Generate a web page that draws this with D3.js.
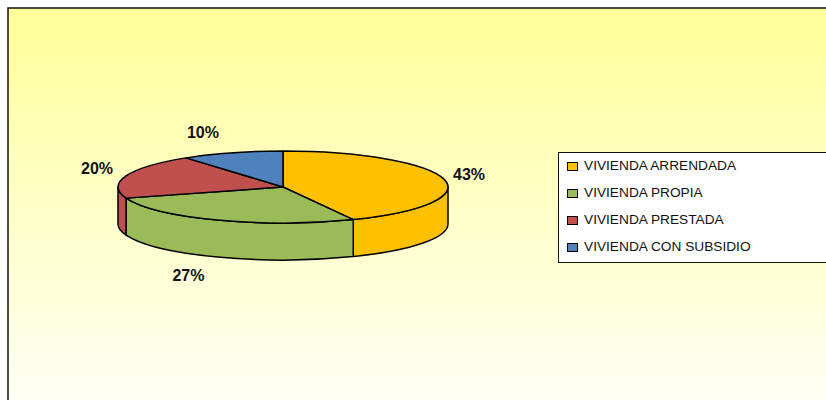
<!DOCTYPE html>
<html>
<head>
    <meta charset="utf-8" />
    <script src="https://d3js.org/d3.v7.min.js"></script>
    <style>
        body { margin: 0; background: #fff; }
    </style>
</head>
<body>
<script type="text/javascript">
    var categories = ["VIVIENDA ARRENDADA", "VIVIENDA PROPIA", "VIVIENDA PRESTADA", "VIVIENDA CON SUBSIDIO"];
    var values = [43, 27, 20, 10];
    var colors = ["#FFC000", "#9BBB59", "#C0504D", "#4F81BD"];

    var w = 826, h = 400;
    var cx = 283, cy = 187, rx = 165, ry = 36, depth = 37;

    var svg = d3.select("body").append("svg")
        .attr("width", w)
        .attr("height", h);

    var grad = svg.append("defs").append("linearGradient")
        .attr("id", "bg").attr("x1", 0).attr("y1", 0).attr("x2", 0).attr("y2", 1);
    grad.append("stop").attr("offset", "0%").attr("stop-color", "#FFFF99");
    grad.append("stop").attr("offset", "100%").attr("stop-color", "#FFFFF8");

    // chart area, runs off the right and bottom
    svg.append("rect")
        .attr("x", 8).attr("y", 8)
        .attr("width", 830).attr("height", 410)
        .attr("fill", "url(#bg)")
        .attr("stroke", "#111")
        .attr("stroke-width", 1.5);

    var pie = d3.pie().sort(null).value(function(d){ return d; });
    var arcs = pie(values);

    function pt(a, dy) {
        return [cx + rx * Math.sin(a), cy - ry * Math.cos(a) + (dy || 0)];
    }

    // side walls (front half only: angles PI/2 .. 3PI/2)
    var sides = svg.append("g");
    arcs.forEach(function(d, i) {
        var a0 = Math.max(d.startAngle, Math.PI / 2),
            a1 = Math.min(d.endAngle, Math.PI * 1.5);
        if (a1 <= a0) return;
        var p0 = pt(a0), p1 = pt(a1), q1 = pt(a1, depth), q0 = pt(a0, depth);
        var large = (a1 - a0) > Math.PI ? 1 : 0;
        var dstr = "M" + p0 + "A" + rx + "," + ry + " 0 " + large + " 1 " + p1 +
                   "L" + q1 + "A" + rx + "," + ry + " 0 " + large + " 0 " + q0 + "Z";
        sides.append("path")
            .attr("d", dstr)
            .attr("fill", colors[i])
            .attr("stroke", "#000")
            .attr("stroke-width", 1.5)
            .attr("stroke-linejoin", "round");
    });

    // top faces
    var tops = svg.append("g");
    arcs.forEach(function(d, i) {
        var p0 = pt(d.startAngle), p1 = pt(d.endAngle);
        var large = (d.endAngle - d.startAngle) > Math.PI ? 1 : 0;
        var dstr = "M" + cx + "," + cy + "L" + p0 + "A" + rx + "," + ry + " 0 " + large + " 1 " + p1 + "Z";
        tops.append("path")
            .attr("d", dstr)
            .attr("fill", colors[i])
            .attr("stroke", "#000")
            .attr("stroke-width", 1.5)
            .attr("stroke-linejoin", "round");
    });

    // percentage labels
    arcs.forEach(function(d, i) {
        var m = (d.startAngle + d.endAngle) / 2;
        var s = Math.sin(m), c = Math.cos(m);
        var x = cx + rx * s + (s >= 0 ? 9 : -13);
        var y = cy - c * (ry + 21) + (c < 0 ? depth : 0);
        svg.append("text")
            .attr("x", x)
            .attr("y", y + 5)
            .attr("text-anchor", s >= 0 ? "start" : "end")
            .attr("font-family", "Liberation Sans, Arial, sans-serif")
            .attr("font-weight", "bold")
            .attr("font-size", "16px")
            .attr("fill", "#111")
            .text(d3.format(".0%")(d.data / 100));
    });

    // legend
    var legend = svg.append("g");
    legend.append("rect")
        .attr("x", 558.5).attr("y", 152.5)
        .attr("width", 300).attr("height", 110)
        .attr("fill", "#fff")
        .attr("stroke", "#111")
        .attr("stroke-width", 1);

    var ly = d3.scalePoint().domain(categories).range([165, 246]);
    categories.forEach(function(name, i) {
        legend.append("rect")
            .attr("x", 567.5).attr("y", ly(name) - 2.5)
            .attr("width", 10).attr("height", 8)
            .attr("fill", colors[i])
            .attr("stroke", "#000")
            .attr("stroke-width", 1);
        legend.append("text")
            .attr("x", 584)
            .attr("y", ly(name) + 5)
            .attr("font-family", "Liberation Sans, Arial, sans-serif")
            .attr("font-size", "13.7px")
            .attr("fill", "#111")
            .text(name);
    });
</script>
</body>
</html>
